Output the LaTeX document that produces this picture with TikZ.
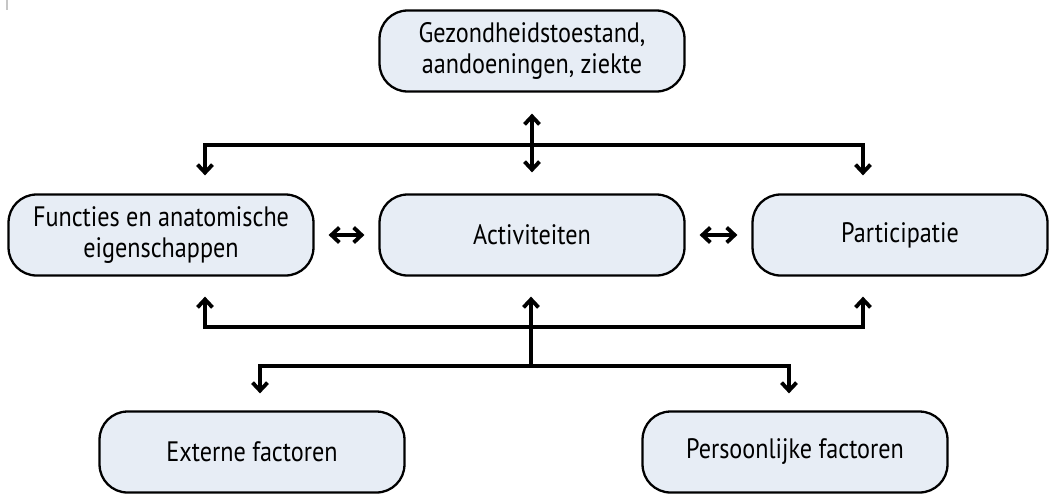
\documentclass[tikz,border=0pt]{standalone}
\usepackage{fontspec}
\setmainfont{PT Sans}[FakeStretch=0.86]
\usepackage{tikz}
\usetikzlibrary{arrows.meta}

\definecolor{boxfill}{RGB}{231,237,245}

\tikzset{
  box/.style={rectangle,rounded corners=0.56cm,draw=black,line width=1.3pt,fill=boxfill,
    minimum width=6.1cm,minimum height=1.62cm,inner sep=0pt,align=center,
    font=\fontsize{16}{17.2}\selectfont},
  link/.style={line width=2.2pt}
}

\begin{document}
\begin{tikzpicture}
[x=0.02cm,y=-0.02cm,>={Straight Barb[length=4.5pt,width=8.5pt]}]
  \useasboundingbox (0,0) rectangle (1050,494);
  \draw[gray!45,line width=1.1pt] (7,0) -- (7,10);

  \node[box] (gez)  at (532,51)  {Gezondheidstoestand,\\aandoeningen, ziekte};
  \node[box] (func) at (161,235) {Functies en anatomische\\eigenschappen};
  \node[box] (act)  at (532,235) {Activiteiten};
  \node[box,minimum width=5.9cm] (part) at (900,235) {Participatie};
  \node[box] (ext)  at (252,452) {Externe factoren};
  \node[box] (pers) at (795,452) {Persoonlijke factoren};

  \coordinate (up)  at (531,145);
  \coordinate (mid) at (531,327);
  \coordinate (hub) at (531,366);
  \coordinate (xf) at (205,0);
  \coordinate (xp) at (863,0);
  \coordinate (xe) at (260,0);
  \coordinate (xq) at (789,0);

  % health condition
  \draw[link,<->,shorten <=0.42cm,shorten >=0.42cm] (gez) -- (act);
  \foreach \x/\n in {xf/func,xp/part}
    \draw[link,->,shorten >=0.36cm] (up) -| (\x |- \n.north);

  % between the three
  \foreach \from/\to in {func/act,act/part}
    \draw[link,<->,shorten <=0.28cm,shorten >=0.28cm] (\from) -- (\to);

  % factors
  \foreach \x/\n in {xf/func,xp/part}
    \draw[link,->,shorten >=0.4cm] (mid) -| (\x |- \n.south);
  \draw[link,->,shorten >=0.4cm] (hub) -- (hub |- act.south);
  \foreach \x/\n in {xe/ext,xq/pers}
    \draw[link,->,shorten >=0.34cm] (hub) -| (\x |- \n.north);

\end{tikzpicture}
\end{document}
